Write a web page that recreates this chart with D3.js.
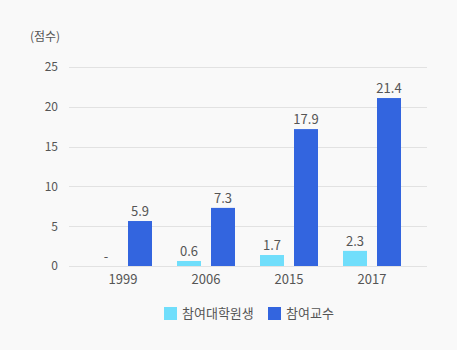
<!DOCTYPE html>
<html><head><meta charset="utf-8">
<script src="https://cdn.jsdelivr.net/npm/d3@7"></script>
<style>
html,body{margin:0;padding:0;background:#f9f9f9;}
svg{display:block;font-family:"Noto Sans CJK KR","Noto Sans",sans-serif;}
</style></head>
<body><svg id="chart" width="457" height="350"></svg>
<script>
const categories = ["1999", "2006", "2015", "2017"];
const seriesNames = ["참여대학원생", "참여교수"];
const studentValues = [0, 0.63, 1.38, 1.9];
const professorValues = [5.65, 7.3, 17.2, 21.1];
const studentLabels = ["-", "0.6", "1.7", "2.3"];
const professorLabels = ["5.9", "7.3", "17.9", "21.4"];
const yTicks = [0, 5, 10, 15, 20, 25];
const unitLabel = "(점수)";
const colors = ["#70defb", "#3365df"];

const svg = d3.select("#chart");
const y = d3.scaleLinear().domain([0, 25]).range([266, 67]);
const x = d3.scaleBand().domain(categories).range([81.5, 413.5]).padding(0);
const barW = 24, gap = 10;

// gridlines
svg.append("g").selectAll("line").data(yTicks).join("line")
  .attr("x1", 69).attr("x2", 427)
  .attr("y1", d => Math.round(y(d)) + 0.5).attr("y2", d => Math.round(y(d)) + 0.5)
  .attr("stroke", "#e2e2e2").attr("stroke-width", 1);

// y axis labels
const yAxis = d3.axisLeft(y).tickValues(yTicks).tickSize(0).tickPadding(0);
const ya = svg.append("g").attr("transform", "translate(58,0)").call(yAxis);
ya.select(".domain").remove();
ya.selectAll("text").attr("font-size", 12).attr("fill", "#555").attr("font-family", "\"Noto Sans CJK KR\",sans-serif");

svg.append("text").attr("x", 45).attr("y", 41).attr("text-anchor", "middle")
  .attr("font-size", 12).attr("fill", "#555").text(unitLabel);

// x axis labels
const xAxis = d3.axisBottom(x).tickSize(0).tickPadding(0);
const xa = svg.append("g").attr("transform", "translate(0,275)").call(xAxis);
xa.select(".domain").remove();
xa.selectAll("text").attr("font-size", 13).attr("fill", "#555").attr("font-family", "\"Noto Sans CJK KR\",sans-serif");

const cx = c => x(c) + x.bandwidth() / 2;

// student bars
svg.append("g").selectAll("rect").data(categories).join("rect")
  .attr("x", c => cx(c) - gap / 2 - barW)
  .attr("y", (c, i) => y(studentValues[i]))
  .attr("width", barW)
  .attr("height", (c, i) => y(0) - y(studentValues[i]))
  .attr("fill", colors[0]);
// professor bars
svg.append("g").selectAll("rect").data(categories).join("rect")
  .attr("x", c => cx(c) + gap / 2)
  .attr("y", (c, i) => y(professorValues[i]))
  .attr("width", barW)
  .attr("height", (c, i) => y(0) - y(professorValues[i]))
  .attr("fill", colors[1]);

// value labels
svg.append("g").selectAll("text").data(categories).join("text")
  .attr("x", c => cx(c) - gap / 2 - barW / 2)
  .attr("y", (c, i) => y(studentValues[i]) - 5)
  .attr("text-anchor", "middle").attr("font-size", 13).attr("fill", "#555")
  .text((c, i) => studentLabels[i]);
svg.append("g").selectAll("text").data(categories).join("text")
  .attr("x", c => cx(c) + gap / 2 + barW / 2)
  .attr("y", (c, i) => y(professorValues[i]) - 5)
  .attr("text-anchor", "middle").attr("font-size", 13).attr("fill", "#555")
  .text((c, i) => professorLabels[i]);

// legend
const legendX = [164, 268];
const lg = svg.append("g").selectAll("g").data(seriesNames).join("g")
  .attr("transform", (d, i) => `translate(${legendX[i]},307)`);
lg.append("rect").attr("width", 13).attr("height", 13).attr("fill", (d, i) => colors[i]);
lg.append("text").attr("x", 18).attr("y", 11).attr("font-size", 13).attr("fill", "#555").text(d => d);
</script></body></html>
